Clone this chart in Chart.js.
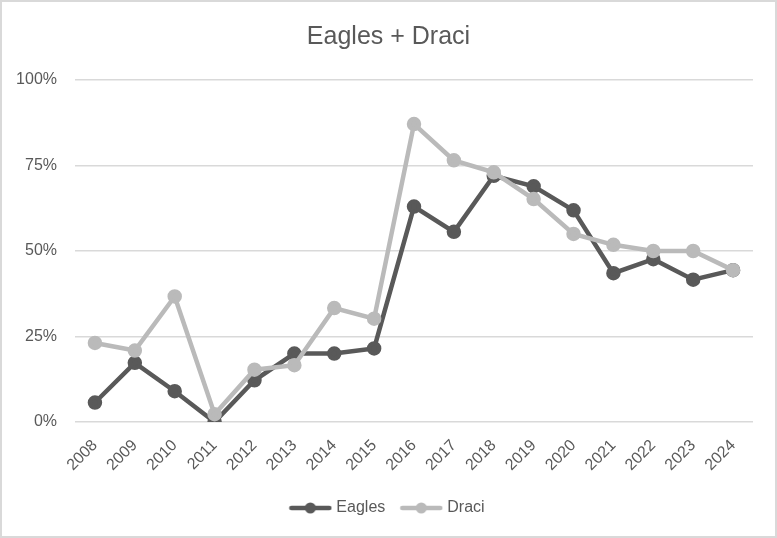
<!DOCTYPE html>
<html>
<head>
<meta charset="utf-8">
<script src="https://cdn.jsdelivr.net/npm/chart.js@4/dist/chart.umd.min.js"></script>
<style>
  html, body { margin: 0; padding: 0; background: #fff; }
  #wrap { position: relative; width: 777px; height: 538px; }
  #frame { position: absolute; left: 0; top: 0; width: 777px; height: 538px; box-sizing: border-box; border: 2px solid #d9d9d9; pointer-events: none; }
</style>
</head>
<body>
<div id="wrap">
  <canvas id="myChart" width="777" height="538"></canvas>
  <div id="frame"></div>
</div>
<script>
// data
var years = ['2008', '2009', '2010', '2011', '2012', '2013', '2014', '2015', '2016',
	'2017', '2018', '2019', '2020', '2021', '2022', '2023', '2024'];
var eagles = [0.057, 0.173, 0.09, 0, 0.122, 0.2, 0.2, 0.215, 0.63,
	0.556, 0.72, 0.689, 0.619, 0.435, 0.476, 0.416, 0.444];
var draci = [0.231, 0.209, 0.367, 0.023, 0.153, 0.166, 0.333, 0.302, 0.871,
	0.765, 0.73, 0.652, 0.55, 0.518, 0.5, 0.5, 0.444];
var yTicks = [0, 0.25, 0.5, 0.75, 1];

var eaglesColor = '#595959';
var draciColor = '#bababa';
var textColor = '#595959';

//legend marker: short line with a dot on it
function legendMarker(color) {
	var c = document.createElement('canvas');
	c.width = 44;
	c.height = 12;
	var g = c.getContext('2d');
	g.strokeStyle = color;
	g.lineWidth = 4.5;
	g.lineCap = 'round';
	g.beginPath();
	g.moveTo(3, 6);
	g.lineTo(41, 6);
	g.stroke();
	g.fillStyle = color;
	g.beginPath();
	g.arc(22, 6, 5.5, 0, Math.PI * 2);
	g.fill();
	return c;
}
var markers = [legendMarker(eaglesColor), legendMarker(draciColor)];

var ctx = document.getElementById('myChart').getContext('2d');
var chart = new Chart(ctx, {
	type: 'line',
	data: {
		labels: years,
		datasets: [{
			label: 'Eagles',
			data: eagles,
			borderColor: eaglesColor,
			backgroundColor: eaglesColor,
			borderWidth: 4.5,
			pointRadius: 5,
			pointHoverRadius: 5,
			tension: 0,
			order: 1
		}, {
			label: 'Draci',
			data: draci,
			borderColor: draciColor,
			backgroundColor: draciColor,
			borderWidth: 4.5,
			pointRadius: 5,
			pointHoverRadius: 5,
			tension: 0,
			order: 0
		}]
	},
	options: {
		responsive: false,
		animation: false,
		layout: {
			padding: { left: 0, right: 0, top: 0, bottom: 12 }
		},
		plugins: {
			title: {
				display: true,
				text: 'Eagles + Draci',
				color: textColor,
				font: { family: "'Liberation Sans Narrow', 'Liberation Sans', sans-serif", size: 25, weight: 'normal' },
				padding: { top: 22, bottom: 28 }
			},
			legend: {
				position: 'bottom',
				labels: {
					color: textColor,
					font: { family: "'Liberation Sans', sans-serif", size: 16 },
					usePointStyle: true,
					pointStyleWidth: 36,
					boxHeight: 12,
					padding: 18,
					generateLabels: function (ch) {
						return ch.data.datasets.map(function (ds, i) {
							return {
								text: ds.label,
								fillStyle: ds.backgroundColor,
								strokeStyle: ds.borderColor,
								lineWidth: 0,
								pointStyle: markers[i],
								fontColor: textColor,
								hidden: false,
								datasetIndex: i
							};
						});
					}
				}
			},
			tooltip: { enabled: false }
		},
		scales: {
			y: {
				min: 0,
				max: 1,
				afterBuildTicks: function (scale) {
					scale.ticks = yTicks.map(function (v) { return { value: v }; });
				},
				afterFit: function (scale) {
					scale.width = 75;
				},
				ticks: {
					color: textColor,
					font: { family: "'Liberation Sans', sans-serif", size: 16 },
					padding: 18,
					callback: function (v) { return Math.round(v * 100) + '%'; }
				},
				grid: { color: '#d9d9d9', lineWidth: 1.5, drawTicks: false },
				border: { display: false }
			},
			//empty right-hand axis, only keeps the plot off the right edge
			yRight: {
				position: 'right',
				min: 0,
				max: 1,
				afterFit: function (scale) {
					scale.width = 24;
				},
				ticks: { display: false },
				grid: { display: false, drawTicks: false },
				border: { display: false }
			},
			x: {
				offset: true,
				afterFit: function (scale) {
					scale.height = 60;
				},
				ticks: {
					color: textColor,
					font: { family: "'Liberation Sans', sans-serif", size: 16 },
					minRotation: 45,
					maxRotation: 45,
					padding: 14
				},
				grid: { display: false, drawTicks: false },
				border: { display: false }
			}
		}
	}
});
</script>
</body>
</html>
